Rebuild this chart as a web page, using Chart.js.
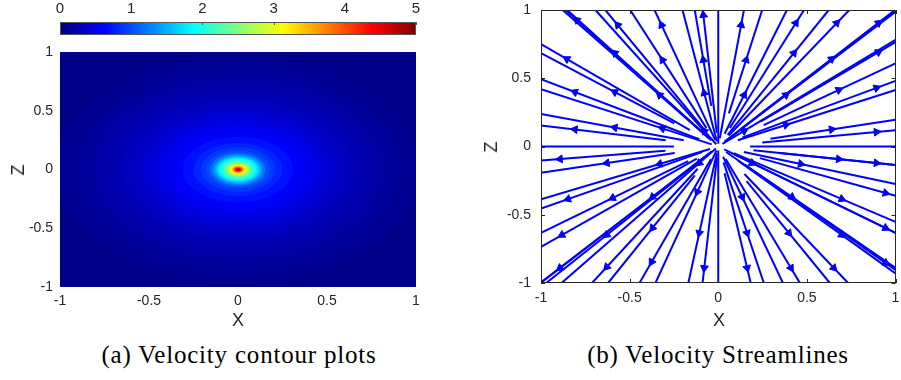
<!DOCTYPE html>
<html><head><meta charset="utf-8">
<script src="https://cdn.jsdelivr.net/npm/chart.js@4.4.0/dist/chart.umd.min.js"></script>
<style>
html,body{margin:0;padding:0;background:#fff;width:901px;height:380px;overflow:hidden;position:relative;}
canvas{position:absolute;}
.lbl{position:absolute;font-family:"Liberation Sans",Arial,sans-serif;font-size:18px;color:#262626;transform:translate(-50%,-50%);white-space:nowrap;line-height:1;}
.cap{position:absolute;font-family:"Liberation Serif","DejaVu Serif",serif;font-size:25px;letter-spacing:0.8px;color:#000;transform:translate(-50%,-50%);white-space:nowrap;line-height:1;}
</style></head><body>
<canvas id="cbar" style="left:0;top:0" width="450" height="40"></canvas>
<canvas id="contour" style="left:0;top:40px" width="450" height="300"></canvas>
<canvas id="stream" style="left:450px;top:0" width="451" height="340"></canvas>
<div class="lbl" style="left:238px;top:320px">X</div>
<div class="lbl" style="left:18px;top:170px;transform:translate(-50%,-50%) rotate(-90deg)">Z</div>
<div class="lbl" style="left:719px;top:320px">X</div>
<div class="lbl" style="left:491px;top:147px;transform:translate(-50%,-50%) rotate(-90deg)">Z</div>
<div class="cap" style="left:239px;top:354px">(a) Velocity contour plots</div>
<div class="cap" style="left:718px;top:354px">(b) Velocity Streamlines</div>
<script>
// ---------- data ----------
const axisTicks = [-1, -0.5, 0, 0.5, 1];
const colorbarTicks = [0, 1, 2, 3, 4, 5];
const colorbarRange = [0, 5];

// velocity magnitude contour levels and their semi-axes (x, z)
const contourLevels = [0.05, 0.10, 0.15, 0.20, 0.25, 0.30, 0.35, 0.40, 0.45, 0.50, 0.55, 0.60, 0.70, 0.80, 0.90, 1.00, 1.20, 1.40, 1.60, 1.80, 2.00, 2.30, 2.60, 2.90, 3.20, 3.60, 4.00, 4.40, 4.80];
const contourRadiusX = [1.50, 1.02, 0.90, 0.80, 0.72, 0.65, 0.59, 0.54, 0.49, 0.45, 0.41, 0.37, 0.31, 0.25, 0.21, 0.18, 0.155, 0.138, 0.124, 0.112, 0.100, 0.082, 0.066, 0.053, 0.043, 0.032, 0.024, 0.017, 0.010];
const contourRadiusZ = [1.50, 0.96, 0.85, 0.75, 0.67, 0.60, 0.545, 0.50, 0.45, 0.41, 0.375, 0.34, 0.28, 0.225, 0.19, 0.162, 0.140, 0.124, 0.111, 0.101, 0.090, 0.074, 0.059, 0.048, 0.039, 0.029, 0.022, 0.015, 0.009];

// streamline seed points (arrow locations)
const seedX = [
 -0.798,-0.567,-0.320,-0.084, 0.129, 0.438, 0.669, 0.904,
 -0.854,-0.584,-0.315,-0.084, 0.157, 0.427, 0.640, 0.904,
 -0.809,-0.584,-0.331,-0.079, 0.146, 0.382, 0.680, 0.893,
 -0.809,-0.584,-0.315,-0.079, 0.146, 0.382, 0.640, 0.893,
 -0.893,-0.629,-0.331,-0.107, 0.191, 0.466, 0.680, 0.893,
 -0.848,-0.596,-0.371,-0.118, 0.135, 0.416, 0.697, 0.944,
 -0.882,-0.629,-0.371,-0.107, 0.163, 0.399, 0.697, 0.944,
 -0.893,-0.629,-0.376,-0.079, 0.163, 0.410, 0.652, 0.944];
const seedZ = [
  0.927, 0.890, 0.890, 0.963, 0.890, 0.905, 0.905, 0.905,
  0.641, 0.685, 0.634, 0.634, 0.634, 0.685, 0.641, 0.692,
  0.399, 0.399, 0.377, 0.392, 0.377, 0.377, 0.414, 0.429,
  0.125, 0.139, 0.132, 0.114, 0.114, 0.158, 0.125, 0.106,
 -0.092,-0.121,-0.128,-0.121,-0.121,-0.128,-0.092,-0.121,
 -0.385,-0.377,-0.370,-0.333,-0.370,-0.370,-0.385,-0.341,
 -0.648,-0.648,-0.597,-0.634,-0.634,-0.634,-0.648,-0.597,
 -0.890,-0.883,-0.846,-0.890,-0.890,-0.890,-0.890,-0.853];
// distance from origin where each streamline begins
const innerR = [
 0.08,0.12,0.05,0.10,0.06,0.15,0.10,0.05,
 0.20,0.08,0.15,0.30,0.25,0.10,0.18,0.30,
 0.12,0.30,0.06,0.04,0.10,0.05,0.30,0.15,
 0.30,0.20,0.04,0.02,0.03,0.12,0.30,0.25,
 0.30,0.25,0.05,0.02,0.04,0.15,0.35,0.20,
 0.10,0.20,0.06,0.03,0.08,0.20,0.10,0.25,
 0.15,0.10,0.25,0.05,0.12,0.30,0.15,0.10,
 0.05,0.20,0.10,0.08,0.20,0.10,0.25,0.06];
// extra streamlines along the axes (no arrows)
const axisLineX = [0, 0, -1, 1];
const axisLineZ = [1, -1, 0, 0];
const axisLineInner = [0.02, 0.03, 0.25, 0.18];

// ---------- styling helpers ----------
const jetPos = [0, 0.125, 0.375, 0.625, 0.875, 1];
const jetRGB = [[0,0,128],[0,0,255],[0,255,255],[255,255,0],[255,0,0],[128,0,0]];
function jet(t){
  t = Math.max(0, Math.min(1, t));
  for (let i = 0; i < jetPos.length - 1; i++){
    if (t <= jetPos[i+1]){
      const f = (t - jetPos[i]) / (jetPos[i+1] - jetPos[i]);
      const a = jetRGB[i], b = jetRGB[i+1];
      return 'rgb(' + a.map((v,k)=>Math.round(v + (b[k]-v)*f)).join(',') + ')';
    }
  }
  return 'rgb(128,0,0)';
}
const AX = '#262626';
const tickFont = {family: '"Liberation Sans", Arial, sans-serif', size: 14};

function boxPlugin(drawTicks){
  return {
    id: 'box',
    afterDatasetsDraw(chart){
      const {ctx, chartArea: a, scales: {x, y}} = chart;
      ctx.save();
      ctx.strokeStyle = AX; ctx.lineWidth = 1;
      if (drawTicks){
        ctx.beginPath();
        axisTicks.forEach(v => {
          const px = Math.round(x.getPixelForValue(v)) + 0.5;
          const py = Math.round(y.getPixelForValue(v)) + 0.5;
          ctx.moveTo(px, a.bottom); ctx.lineTo(px, a.bottom - 4);
          ctx.moveTo(px, a.top); ctx.lineTo(px, a.top + 4);
          ctx.moveTo(a.left, py); ctx.lineTo(a.left + 4, py);
          ctx.moveTo(a.right, py); ctx.lineTo(a.right - 4, py);
        });
        ctx.stroke();
      }
      ctx.strokeRect(Math.round(a.left)+0.5, Math.round(a.top)+0.5, Math.round(a.width)-1, Math.round(a.height)-1);
      ctx.restore();
    }
  };
}

function zeroPad(s){ s.paddingLeft = 0; s.paddingRight = 0; s.paddingTop = 0; s.paddingBottom = 0; }
function linAxis(isX, sizeFit, pad){
  return {
    type: 'linear', min: -1, max: 1,
    afterBuildTicks: s => { s.ticks = axisTicks.map(v => ({value: v})); },
    afterFit: s => { if (isX) s.height = sizeFit; else s.width = sizeFit; zeroPad(s); },
    grid: {display: false, drawTicks: false},
    border: {display: false},
    ticks: {color: AX, font: tickFont, padding: pad, maxRotation: 0, callback: v => String(v)}
  };
}

// ---------- colorbar ----------
new Chart(document.getElementById('cbar'), {
  type: 'bar',
  data: {labels: ['v'], datasets: [{
    data: [colorbarRange],
    barPercentage: 1, categoryPercentage: 1, borderWidth: 0, borderSkipped: false,
    backgroundColor: (c) => {
      const ch = c.chart; if (!ch.chartArea) return '#00f';
      const xs = ch.scales.x;
      const g = ch.ctx.createLinearGradient(xs.getPixelForValue(colorbarRange[0]), 0, xs.getPixelForValue(colorbarRange[1]), 0);
      jetPos.forEach((p,i) => g.addColorStop(p, 'rgb(' + jetRGB[i].join(',') + ')'));
      return g;
    }
  }]},
  options: {
    indexAxis: 'y', responsive: false, animation: false, events: [],
    layout: {padding: {left: 60, right: 34, top: 0, bottom: 5}},
    plugins: {legend: {display: false}, tooltip: {enabled: false}},
    scales: {
      x: {type: 'linear', position: 'top', min: colorbarRange[0], max: colorbarRange[1],
          afterBuildTicks: s => { s.ticks = colorbarTicks.map(v => ({value: v})); },
          afterFit: s => { s.height = 22; zeroPad(s); },
          grid: {display: false, drawTicks: false}, border: {display: false},
          ticks: {color: AX, font: {family: tickFont.family, size: 15}, padding: 4, maxRotation: 0, callback: v => String(v)}},
      y: {display: false}
    }
  },
  plugins: [{
    id: 'cbbox',
    afterDatasetsDraw(chart){
      const {ctx, chartArea: a, scales: {x}} = chart;
      ctx.save(); ctx.strokeStyle = '#555'; ctx.lineWidth = 1;
      ctx.beginPath();
      colorbarTicks.forEach(v => {
        const px = Math.round(x.getPixelForValue(v)) + 0.5;
        ctx.moveTo(px, a.top); ctx.lineTo(px, a.top + 3);
      });
      ctx.stroke();
      ctx.strokeRect(Math.round(a.left)+0.5, Math.round(a.top)+0.5, Math.round(a.width)-1, Math.round(a.height)-1);
      ctx.restore();
    }
  }]
});

// ---------- contour panel ----------
new Chart(document.getElementById('contour'), {
  type: 'scatter',
  data: {datasets: [{data: []}]},
  options: {
    responsive: false, animation: false, events: [],
    layout: {padding: {left: 0, right: 34, top: 12, bottom: 13}},
    plugins: {legend: {display: false}, tooltip: {enabled: false}},
    scales: {x: linAxis(true, 40, 6), y: linAxis(false, 60, 7)}
  },
  plugins: [{
    id: 'contourFill',
    beforeDatasetsDraw(chart){
      const {ctx, chartArea: a, scales: {x, y}} = chart;
      ctx.save();
      ctx.beginPath(); ctx.rect(a.left, a.top, a.width, a.height); ctx.clip();
      const cx = x.getPixelForValue(0), cy = y.getPixelForValue(0);
      contourLevels.forEach((lv, i) => {
        const rx = Math.abs(x.getPixelForValue(contourRadiusX[i]) - cx);
        const ry = Math.abs(y.getPixelForValue(contourRadiusZ[i]) - cy);
        ctx.fillStyle = jet((lv - colorbarRange[0]) / (colorbarRange[1] - colorbarRange[0]));
        ctx.beginPath(); ctx.ellipse(cx, cy, rx, ry, 0, 0, Math.PI * 2); ctx.fill();
      });
      ctx.restore();
    }
  }]
});

// ---------- streamline panel ----------
function toBorder(px, pz){
  const k = 1 / Math.max(Math.abs(px), Math.abs(pz));
  return {x: px * k, y: pz * k};
}
function fromInner(px, pz, r){
  const k = r / Math.hypot(px, pz);
  return {x: px * k, y: pz * k};
}
const lineSets = [];
seedX.forEach((sx, i) => {
  lineSets.push({type: 'scatter', showLine: true, data: [fromInner(sx, seedZ[i], innerR[i]), toBorder(sx, seedZ[i])],
    borderColor: '#0000ff', borderWidth: 2, pointRadius: 0, order: 2});
});
axisLineX.forEach((ax, i) => {
  lineSets.push({type: 'scatter', showLine: true, data: [fromInner(ax, axisLineZ[i], axisLineInner[i]), toBorder(ax, axisLineZ[i])],
    borderColor: '#0000ff', borderWidth: 2, pointRadius: 0, order: 2});
});
lineSets.push({
  type: 'scatter', order: 1,
  data: seedX.map((sx, i) => ({x: sx, y: seedZ[i]})),
  pointStyle: 'triangle', pointRadius: 4.5, backgroundColor: '#0000ff', borderColor: '#0000ff', borderWidth: 1,
  rotation: (c) => {
    const ch = c.chart; const p = c.raw; if (!p || !ch.scales.x) return 0;
    const sx = ch.scales.x.getPixelForValue(1) - ch.scales.x.getPixelForValue(0);
    const sy = ch.scales.y.getPixelForValue(0) - ch.scales.y.getPixelForValue(1);
    return Math.atan2(p.x * sx, p.y * sy) * 180 / Math.PI;
  }
});

new Chart(document.getElementById('stream'), {
  type: 'scatter',
  data: {datasets: lineSets},
  options: {
    responsive: false, animation: false, events: [],
    layout: {padding: {left: 31, right: 4, top: 10, bottom: 13}},
    plugins: {legend: {display: false}, tooltip: {enabled: false}},
    scales: {x: linAxis(true, 44, 7), y: linAxis(false, 60, 10)}
  },
  plugins: [boxPlugin(true)]
});
</script>
</body></html>
